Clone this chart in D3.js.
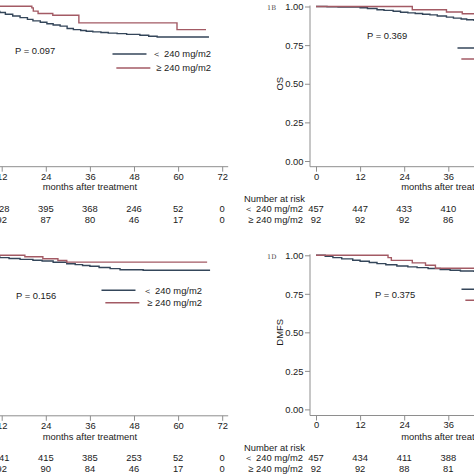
<!DOCTYPE html>
<html><head><meta charset="utf-8">
<script src="https://cdn.jsdelivr.net/npm/d3@7"></script>
<style>html,body{margin:0;padding:0;background:#fff;} svg{display:block;}</style>
</head><body><svg id="c" width="474" height="474"></svg>
<script>
// ---------- data ----------
const xTicks = [0, 12, 24, 36, 48, 60, 72];
const yTicks = [0, 0.25, 0.5, 0.75, 1];
const groups = ["＜ 240 mg/m2", "≥ 240 mg/m2"];
const riskHeader = "Number at risk";
const xTitle = "months after treatment";

// Panel 1A (top-left)
const aLowTime  = [0, 2, 4, 6, 8, 10, 11.5, 13, 15, 17, 19, 20.5, 22.5, 24.3, 26, 27.9, 29.8, 31.5, 33.5, 35, 36.8, 39, 41, 43.4, 46, 49.6, 52, 54.3, 68.4];
const aLowSurv  = [1, .993, .986, .979, .972, .966, .959, .948, .937, .926, .915, .905, .896, .887, .879, .871, .856, .849, .843, .838, .834, .830, .826, .823, .818, .812, .806, .801, .801];
const aHighTime = [0, 20.2, 20.6, 21.9, 25.9, 33.0, 59.7, 67.6];
const aHighSurv = [1, .989, .968, .953, .942, .892, .849, .849];
const aRiskTimes = [0, 12, 24, 36, 48, 60, 72];
const aRiskLow  = [457, 428, 395, 368, 246, 52, 0];
const aRiskHigh = [92, 92, 87, 80, 46, 17, 0];
const aP = "P = 0.097";

// Panel 1B (top-right, OS)
const bLowTime  = [0, 3, 6, 8, 10, 12, 14, 16.6, 18.5, 21, 23, 25, 27, 29, 31, 33, 35.5, 37.4, 39.5, 41, 43, 46, 50, 55, 60, 68];
const bLowSurv  = [1, .998, .997, .996, .996, .992, .987, .979, .975, .969, .963, .959, .955, .950, .946, .939, .931, .925, .919, .914, .910, .905, .900, .896, .893, .893];
const bHighTime = [0, 26.2, 35.5, 39.8, 47, 55, 67];
const bHighSurv = [1, .979, .964, .953, .942, .930, .930];
const bRiskTimes = [0, 12, 24, 36];
const bRiskLow  = [457, 447, 433, 410];
const bRiskHigh = [92, 92, 92, 86];
const bP = "P = 0.369";

// Panel 1C (bottom-left)
const cLowTime  = [0, 3, 6, 9, 11.5, 14, 17, 20.5, 23, 26, 29.7, 32, 34, 36, 38.5, 41.5, 44.2, 50.5, 68.7];
const cLowSurv  = [1, .997, .993, .988, .984, .979, .973, .967, .962, .954, .945, .939, .933, .928, .920, .913, .906, .902, .902];
const cHighTime = [0, 18.3, 23.2, 27.3, 29.7, 67.9];
const cHighSurv = [1, .990, .977, .966, .955, .955];
const cRiskTimes = [0, 12, 24, 36, 48, 60, 72];
const cRiskLow  = [457, 441, 415, 385, 253, 52, 0];
const cRiskHigh = [92, 92, 90, 84, 46, 17, 0];
const cP = "P = 0.156";

// Panel 1D (bottom-right, DMFS)
const dLowTime  = [0, 2.5, 4.6, 7, 10, 12, 14.5, 16.6, 19, 22, 25, 27.5, 30.5, 33.8, 36.5, 39.3, 43, 48, 56, 68];
const dLowSurv  = [1, .994, .985, .977, .968, .961, .953, .946, .939, .931, .925, .920, .914, .908, .903, .898, .896, .893, .891, .891];
const dHighTime = [0, 19.6, 20.5, 26.2, 29.8, 32.5, 67];
const dHighSurv = [1, .985, .967, .951, .935, .916, .916];
const dRiskTimes = [0, 12, 24, 36];
const dRiskLow  = [457, 434, 411, 388];
const dRiskHigh = [92, 92, 88, 81];
const dP = "P = 0.375";

// ---------- layout ----------
const colLow = "#34465a", colHigh = "#a35a64";
const axisCol = "#8e8e8e", textCol = "#1a1a1a";
const FS = 9.4;
const FONT = "'Liberation Sans', Arial, sans-serif";
const W = 474;

const panels = [
  { tag: "", ylab: "", x0: -42.4, y1: 6.2, y0: 161, axisY: 166.7,
    low: [aLowTime, aLowSurv], high: [aHighTime, aHighSurv],
    risk: [aRiskTimes, aRiskLow, aRiskHigh], p: aP, pX: 15, pY: 53.5,
    legRight: 211, legY: [54, 68], legGap: 6, riskLabels: false,
    titleY: 189.5, riskY: [202, 212.3, 222.7] },
  { tag: "1B", ylab: "OS", x0: 316, y1: 6.5, y0: 161, axisY: 166.7,
    low: [bLowTime, bLowSurv], high: [bHighTime, bHighSurv],
    risk: [bRiskTimes, bRiskLow, bRiskHigh], p: bP, pX: 367, pY: 39,
    legRight: 556, legY: [48, 59], legGap: 6, riskLabels: true,
    titleY: 189.5, riskY: [202, 212.3, 222.7] },
  { tag: "", ylab: "", x0: -42.4, y1: 255.2, y0: 409.4, axisY: 415.8,
    low: [cLowTime, cLowSurv], high: [cHighTime, cHighSurv],
    risk: [cRiskTimes, cRiskLow, cRiskHigh], p: cP, pX: 16, pY: 298.7,
    legRight: 202, legY: [290.3, 302.7], legGap: 8, riskLabels: false,
    titleY: 439.8, riskY: [450.5, 461, 472] },
  { tag: "1D", ylab: "DMFS", x0: 316, y1: 255.3, y0: 409.4, axisY: 415.5,
    low: [dLowTime, dLowSurv], high: [dHighTime, dHighSurv],
    risk: [dRiskTimes, dRiskLow, dRiskHigh], p: dP, pX: 375, pY: 298,
    legRight: 561, legY: [289.3, 300.3], legGap: 7, riskLabels: true,
    titleY: 439.8, riskY: [450.8, 460.8, 471.5] }
];
const pxPerMonth = 44.1 / 12;

const svg = d3.select("#c");
svg.append("rect").attr("width", W).attr("height", 474).attr("fill", "#fff");

panels.forEach(P => {
  const g = svg.append("g").attr("font-family", FONT).attr("font-size", FS).attr("fill", textCol);
  const x = d3.scaleLinear().domain([0, 72]).range([P.x0, P.x0 + 72 * pxPerMonth]);
  const y = d3.scaleLinear().domain([0, 1]).range([P.y0, P.y1]);
  const yAxisX = P.x0 - 6;

  // axis lines
  g.append("line").attr("x1", yAxisX).attr("x2", yAxisX).attr("y1", P.y1 - 1).attr("y2", P.axisY)
    .attr("stroke", axisCol).attr("stroke-width", 1);
  g.append("line").attr("x1", yAxisX).attr("x2", x(72) + 6).attr("y1", P.axisY).attr("y2", P.axisY)
    .attr("stroke", axisCol).attr("stroke-width", 1);

  // x axis
  const xa = g.append("g").attr("transform", `translate(0,${P.axisY})`)
    .call(d3.axisBottom(x).tickValues(xTicks).tickSize(5).tickPadding(1.2).tickFormat(d3.format("d")));
  xa.select(".domain").remove();
  xa.selectAll("line").attr("stroke", axisCol);
  xa.selectAll("text").attr("fill", textCol).attr("font-size", FS).attr("font-family", FONT);

  // y axis
  const ya = g.append("g").attr("transform", `translate(${yAxisX},0)`)
    .call(d3.axisLeft(y).tickValues(yTicks).tickSize(5).tickPadding(1.5).tickFormat(d3.format(".2f")));
  ya.select(".domain").remove();
  ya.selectAll("line").attr("stroke", axisCol);
  ya.selectAll("text").attr("fill", textCol).attr("font-size", FS).attr("font-family", FONT).attr("dy", "0.34em");

  if (P.ylab) {
    g.append("text").attr("transform", `translate(${yAxisX - 30},${(P.y0 + P.y1) / 2}) rotate(-90)`)
      .attr("text-anchor", "middle").attr("dy", "0.35em").text(P.ylab);
  }
  if (P.tag) {
    g.append("text").attr("x", yAxisX - 43).attr("y", P.y1 + 3.5)
      .attr("font-family", "'DejaVu Serif', 'Liberation Serif', serif").attr("font-size", 6.5)
      .attr("fill", "#444").text(P.tag);
  }

  // curves
  const line = d3.line().x(d => x(d[0])).y(d => y(d[1])).curve(d3.curveStepAfter);
  [[P.low, colLow], [P.high, colHigh]].forEach(([s, col]) => {
    const pts = s[0].map((t, i) => [t, s[1][i]]);
    g.append("path").datum(pts).attr("d", line).attr("fill", "none")
      .attr("stroke", col).attr("stroke-width", 1.4);
  });

  // P value
  g.append("text").attr("x", P.pX).attr("y", P.pY).text(P.p);

  // legend
  [colLow, colHigh].forEach((col, i) => {
    const t = g.append("text").attr("x", P.legRight).attr("y", P.legY[i] + 3.3)
      .attr("text-anchor", "end").text(groups[i]);
    const w = t.node().getComputedTextLength();
    const x2 = P.legRight - w - P.legGap;
    g.append("line").attr("x1", x2 - 34).attr("x2", x2).attr("y1", P.legY[i]).attr("y2", P.legY[i])
      .attr("stroke", col).attr("stroke-width", 1.4);
  });

  // x title
  g.append("text").attr("x", x(36)).attr("y", P.titleY).attr("text-anchor", "middle").text(xTitle);

  // risk table
  if (P.riskLabels) {
    g.append("text").attr("x", yAxisX - 66).attr("y", P.riskY[0]).text(riskHeader);
    g.append("text").attr("x", yAxisX - 7).attr("y", P.riskY[1]).attr("text-anchor", "end").text(groups[0]);
    g.append("text").attr("x", yAxisX - 7).attr("y", P.riskY[2]).attr("text-anchor", "end").text(groups[1]);
  }
  [1, 2].forEach(r => {
    g.selectAll(null).data(P.risk[0]).enter().append("text")
      .attr("x", d => x(d)).attr("y", P.riskY[r]).attr("text-anchor", "middle")
      .text((d, i) => P.risk[r][i]);
  });
});

// drop texts that lie wholly outside the visible crop (the reference shows none of them)
svg.selectAll("text").each(function () {
  const b = this.getBoundingClientRect();
  if (b.right <= 0 || b.left >= W) d3.select(this).remove();
});
</script></body></html>
